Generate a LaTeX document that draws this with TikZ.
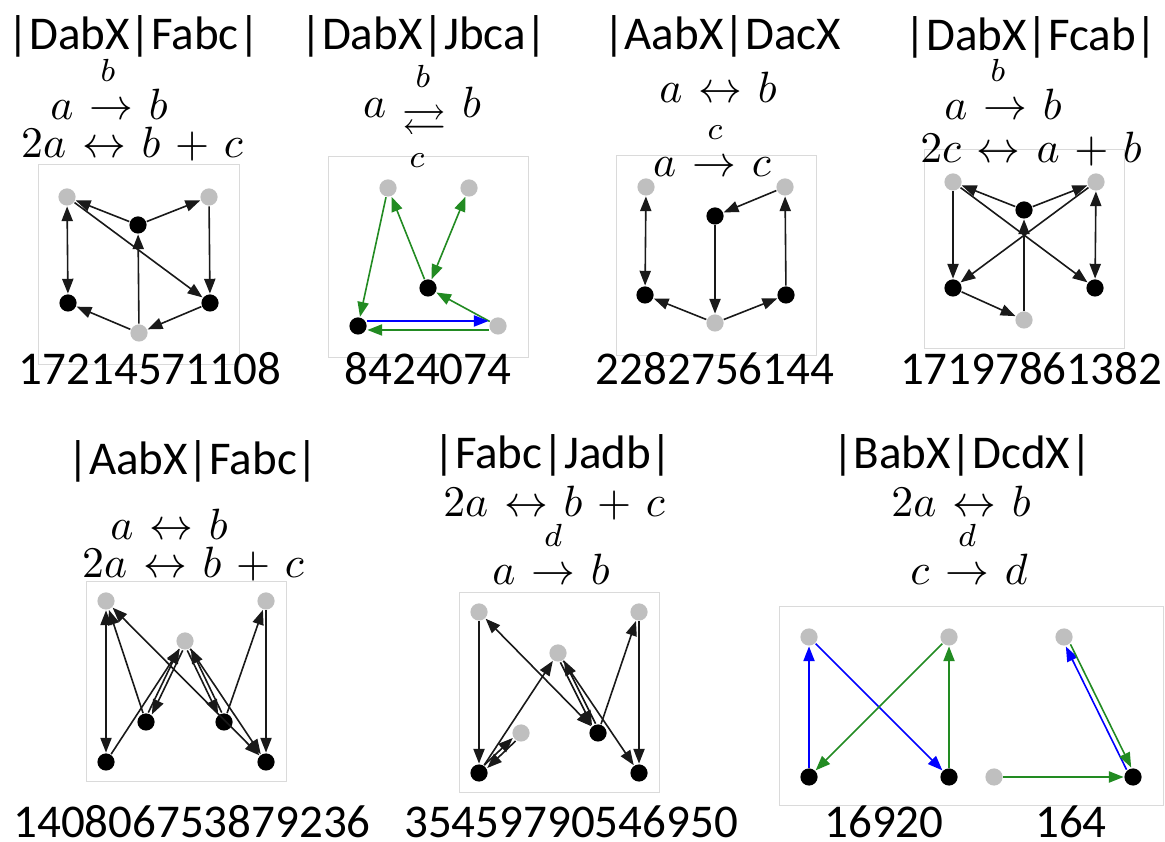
\documentclass[tikz,border=0pt]{standalone}
\usepackage[no-math]{fontspec}
\setmainfont{Carlito}
\usepackage{amsmath,amssymb}
\usetikzlibrary{arrows.meta}
\definecolor{gnode}{RGB}{191,191,191}
\definecolor{eg}{RGB}{34,139,34}
\definecolor{eb}{RGB}{0,0,255}
\definecolor{ek}{RGB}{25,25,25}
\definecolor{boxc}{RGB}{218,218,218}
\medmuskip=6mu plus 2mu minus 2mu
\thickmuskip=6.5mu plus 2mu
\begin{document}
\begin{tikzpicture}[x=0.25pt,y=-0.25pt,
  myt/.tip={Triangle[length=3.7pt,width=2.8pt]},
  gn/.style={circle,fill=gnode,minimum size=4.3pt,inner sep=0pt},
  bn/.style={circle,fill=black,minimum size=4.3pt,inner sep=0pt},
  e/.style={draw=ek,line width=0.4pt,-myt},
  ee/.style={draw=ek,line width=0.4pt,myt-myt},
  sh/.style 2 args={transform canvas={shift={(#1,#2)}}},
  bx/.style={draw=boxc,line width=0.25pt},
  tt/.style={anchor=base,inner sep=0pt,font=\fontsize{11.75}{14}\selectfont},
  mt/.style={anchor=base,inner sep=0pt,font=\fontsize{11}{13}\selectfont},
  ms/.style={anchor=base,inner sep=0pt,font=\fontsize{8}{10}\selectfont}]
\fill[white] (0,0) rectangle (1165,842);
\useasboundingbox (0,0) rectangle (1165,842);
% boxes
\draw[bx] (38,165) rectangle (239,365);
\draw[bx] (328,157) rectangle (528,358);
\draw[bx] (616,156) rectangle (816,356);
\draw[bx] (924,150) rectangle (1124,349);
\draw[bx] (86,582) rectangle (286,782);
\draw[bx] (459,593) rectangle (659,793);
\draw[bx] (779,607) rectangle (1163,806);
% ---------- texts ----------
\node[tt] (t1) at (134,50) {|DabX|Fabc|};
\node[ms] (t1o) at (108,82) {$b$};
\node[mt] (t1a) at (109,120) {$a \rightarrow b$};
\node[mt] (t1b) at (132,158) {$2a \leftrightarrow b + c$};
\node[tt] (n1) at (150,385) {17214571108};

\node[tt] (t2) at (424,50) {|DabX|Jbca|};
\node[ms] (t2o) at (423,88) {$b$};
\node[mt] (t2a) at (422,118) {$a \mathrel{\raisebox{-0.8ex}{$\rightleftarrows$}} b$};
\node[ms] (t2u) at (417,168) {$c$};
\node[tt] (n2) at (428,385) {8424074};

\node[tt] (t3) at (722,50) {|AabX|DacX};
\node[mt] (t3a) at (718,103) {$a \leftrightarrow b$};
\node[ms] (t3o) at (715,140) {$c$};
\node[mt] (t3b) at (712,177) {$a \rightarrow c$};
\node[tt] (n3) at (715,385) {2282756144};

\node[tt] (t4) at (1031,51) {|DabX|Fcab|};
\node[ms] (t4o) at (998,82) {$b$};
\node[mt] (t4a) at (1003,120) {$a \rightarrow b$};
\node[mt] (t4b) at (1031,163) {$2c \leftrightarrow a + b$};
\node[tt] (n4) at (1031,385) {17197861382};

\node[tt] (t5) at (193,475) {|AabX|Fabc|};
\node[mt] (t5a) at (169,540) {$a \leftrightarrow b$};
\node[mt] (t5b) at (193,578) {$2a \leftrightarrow b + c$};
\node[tt] (n5) at (192,837) {140806753879236};

\node[tt] (t6) at (553,469) {|Fabc|Jadb|};
\node[mt] (t6a) at (554,517) {$2a \leftrightarrow b + c$};
\node[ms] (t6o) at (553,547) {$d$};
\node[mt] (t6b) at (551,585) {$a \rightarrow b$};
\node[tt] (n6) at (571,837) {35459790546950};

\node[tt] (t7) at (962,469) {|BabX|DcdX|};
\node[mt] (t7a) at (961,517) {$2a \leftrightarrow b$};
\node[ms] (t7o) at (967,547) {$d$};
\node[mt] (t7b) at (969,585) {$c \rightarrow d$};
\node[tt] (n7a) at (884,837) {16920};
\node[tt] (n7b) at (1071,837) {164};
% ---------- panel 1 ----------
\node[gn] (p1tl) at (67,197) {};
\node[gn] (p1tr) at (209,197) {};
\node[bn] (p1m) at (138,225) {};
\node[bn] (p1bl) at (68,303) {};
\node[bn] (p1br) at (210,303) {};
\node[gn] (p1b) at (139,333) {};
\draw[e] (p1m) -- (p1tl);
\draw[e] (p1m) -- (p1tr);
\draw[ee] (p1tl) -- (p1bl);
\draw[e] (p1tl) -- (p1br);
\draw[e] (p1tr) -- (p1br);
\draw[e] (p1b) -- (p1m);
\draw[e] (p1b) -- (p1bl);
\draw[e] (p1br) -- (p1b);
% ---------- panel 2 ----------
\node[gn] (p2tl) at (388,188) {};
\node[gn] (p2tr) at (469,188) {};
\node[bn] (p2m) at (428,288) {};
\node[bn] (p2bl) at (358,326) {};
\node[gn] (p2br) at (498,326) {};
\draw[e,draw=eg] (p2tl) -- (p2bl);
\draw[e,draw=eg] (p2m) -- (p2tl);
\draw[ee,draw=eg] (p2m) -- (p2tr);
\draw[e,draw=eg] (p2br) -- (p2m);
\draw[e,draw=eb,sh={0}{-5}] (p2bl) -- (p2br);
\draw[e,draw=eg,sh={0}{4}] (p2br) -- (p2bl);
% ---------- panel 3 ----------
\node[gn] (p3tl) at (646,187) {};
\node[gn] (p3tr) at (785,187) {};
\node[bn] (p3m) at (715,216) {};
\node[bn] (p3bl) at (645,295) {};
\node[bn] (p3br) at (786,295) {};
\node[gn] (p3b) at (715,323) {};
\draw[ee] (p3tl) -- (p3bl);
\draw[e] (p3tr) -- (p3m);
\draw[e] (p3m) -- (p3b);
\draw[e] (p3b) -- (p3bl);
\draw[e] (p3b) -- (p3br);
\draw[e] (p3br) -- (p3tr);
% ---------- panel 4 ----------
\node[gn] (p4tl) at (953,182) {};
\node[gn] (p4tr) at (1096,182) {};
\node[bn] (p4m) at (1024,210) {};
\node[bn] (p4bl) at (953,288) {};
\node[bn] (p4br) at (1095,288) {};
\node[gn] (p4b) at (1024,320) {};
\draw[e] (p4m) -- (p4tl);
\draw[e] (p4m) -- (p4tr);
\draw[e] (p4tl) -- (p4bl);
\draw[ee] (p4tr) -- (p4br);
\draw[e] (p4tl) -- (p4br);
\draw[e] (p4tr) -- (p4bl);
\draw[e] (p4b) -- (p4m);
\draw[e] (p4bl) -- (p4b);
% ---------- panel 5 ----------
\node[gn] (p5tl) at (106,601) {};
\node[gn] (p5tr) at (266,601) {};
\node[gn] (p5m) at (185,641) {};
\node[bn] (p5lm) at (146,722) {};
\node[bn] (p5rm) at (224,722) {};
\node[bn] (p5bl) at (106,762) {};
\node[bn] (p5br) at (266,762) {};
\draw[ee] (p5tl) -- (p5bl);
\draw[e] (p5tr) -- (p5br);
\draw[e] (p5rm) -- (p5tr);
\draw[ee] (p5tl) -- (p5br);
\draw[e] (p5lm) -- (p5tl);
\draw[e,sh={1.8}{0.9}] (p5m) -- (p5lm);
\draw[e,sh={-1.8}{-0.9}] (p5lm) -- (p5m);
\draw[e] (p5bl) -- (p5m);
\draw[e,sh={-1.8}{0.9}] (p5m) -- (p5rm);
\draw[e,sh={1.8}{-0.9}] (p5rm) -- (p5m);
\draw[e] (p5m) -- (p5br);
% ---------- panel 6 ----------
\node[gn] (p6tl) at (479,612) {};
\node[gn] (p6tr) at (639,612) {};
\node[gn] (p6m) at (558,653) {};
\node[gn] (p6s) at (521,733) {};
\node[bn] (p6rm) at (598,733) {};
\node[bn] (p6bl) at (479,773) {};
\node[bn] (p6br) at (639,773) {};
\draw[e] (p6tl) -- (p6bl);
\draw[e] (p6tr) -- (p6br);
\draw[e] (p6rm) -- (p6tr);
\draw[ee] (p6tl) -- (p6rm);
\draw[e] (p6bl) -- (p6m);
\draw[e,sh={1.4}{1.5}] (p6s) -- (p6bl);
\draw[e,sh={-1.4}{-1.5}] (p6bl) -- (p6s);
\draw[e,sh={-1.8}{0.9}] (p6m) -- (p6rm);
\draw[e,sh={1.8}{-0.9}] (p6rm) -- (p6m);
\draw[e] (p6m) -- (p6br);
% ---------- panel 7 ----------
\node[gn] (p7tl) at (809,637) {};
\node[gn] (p7t2) at (949,637) {};
\node[bn] (p7bl) at (809,777) {};
\node[bn] (p7b2) at (949,777) {};
\node[gn] (p7t3) at (1064,637) {};
\node[gn] (p7b3) at (994,777) {};
\node[bn] (p7b4) at (1133,777) {};
\draw[e,draw=eb] (p7bl) -- (p7tl);
\draw[e,draw=eb] (p7tl) -- (p7b2);
\draw[e,draw=eg] (p7t2) -- (p7bl);
\draw[e,draw=eg] (p7b2) -- (p7t2);
\draw[e,draw=eb,sh={-2.3}{1.1}] (p7b4) -- (p7t3);
\draw[e,draw=eg,sh={2.3}{-1.1}] (p7t3) -- (p7b4);
\draw[e,draw=eg] (p7b3) -- (p7b4);
\end{tikzpicture}
\end{document}
